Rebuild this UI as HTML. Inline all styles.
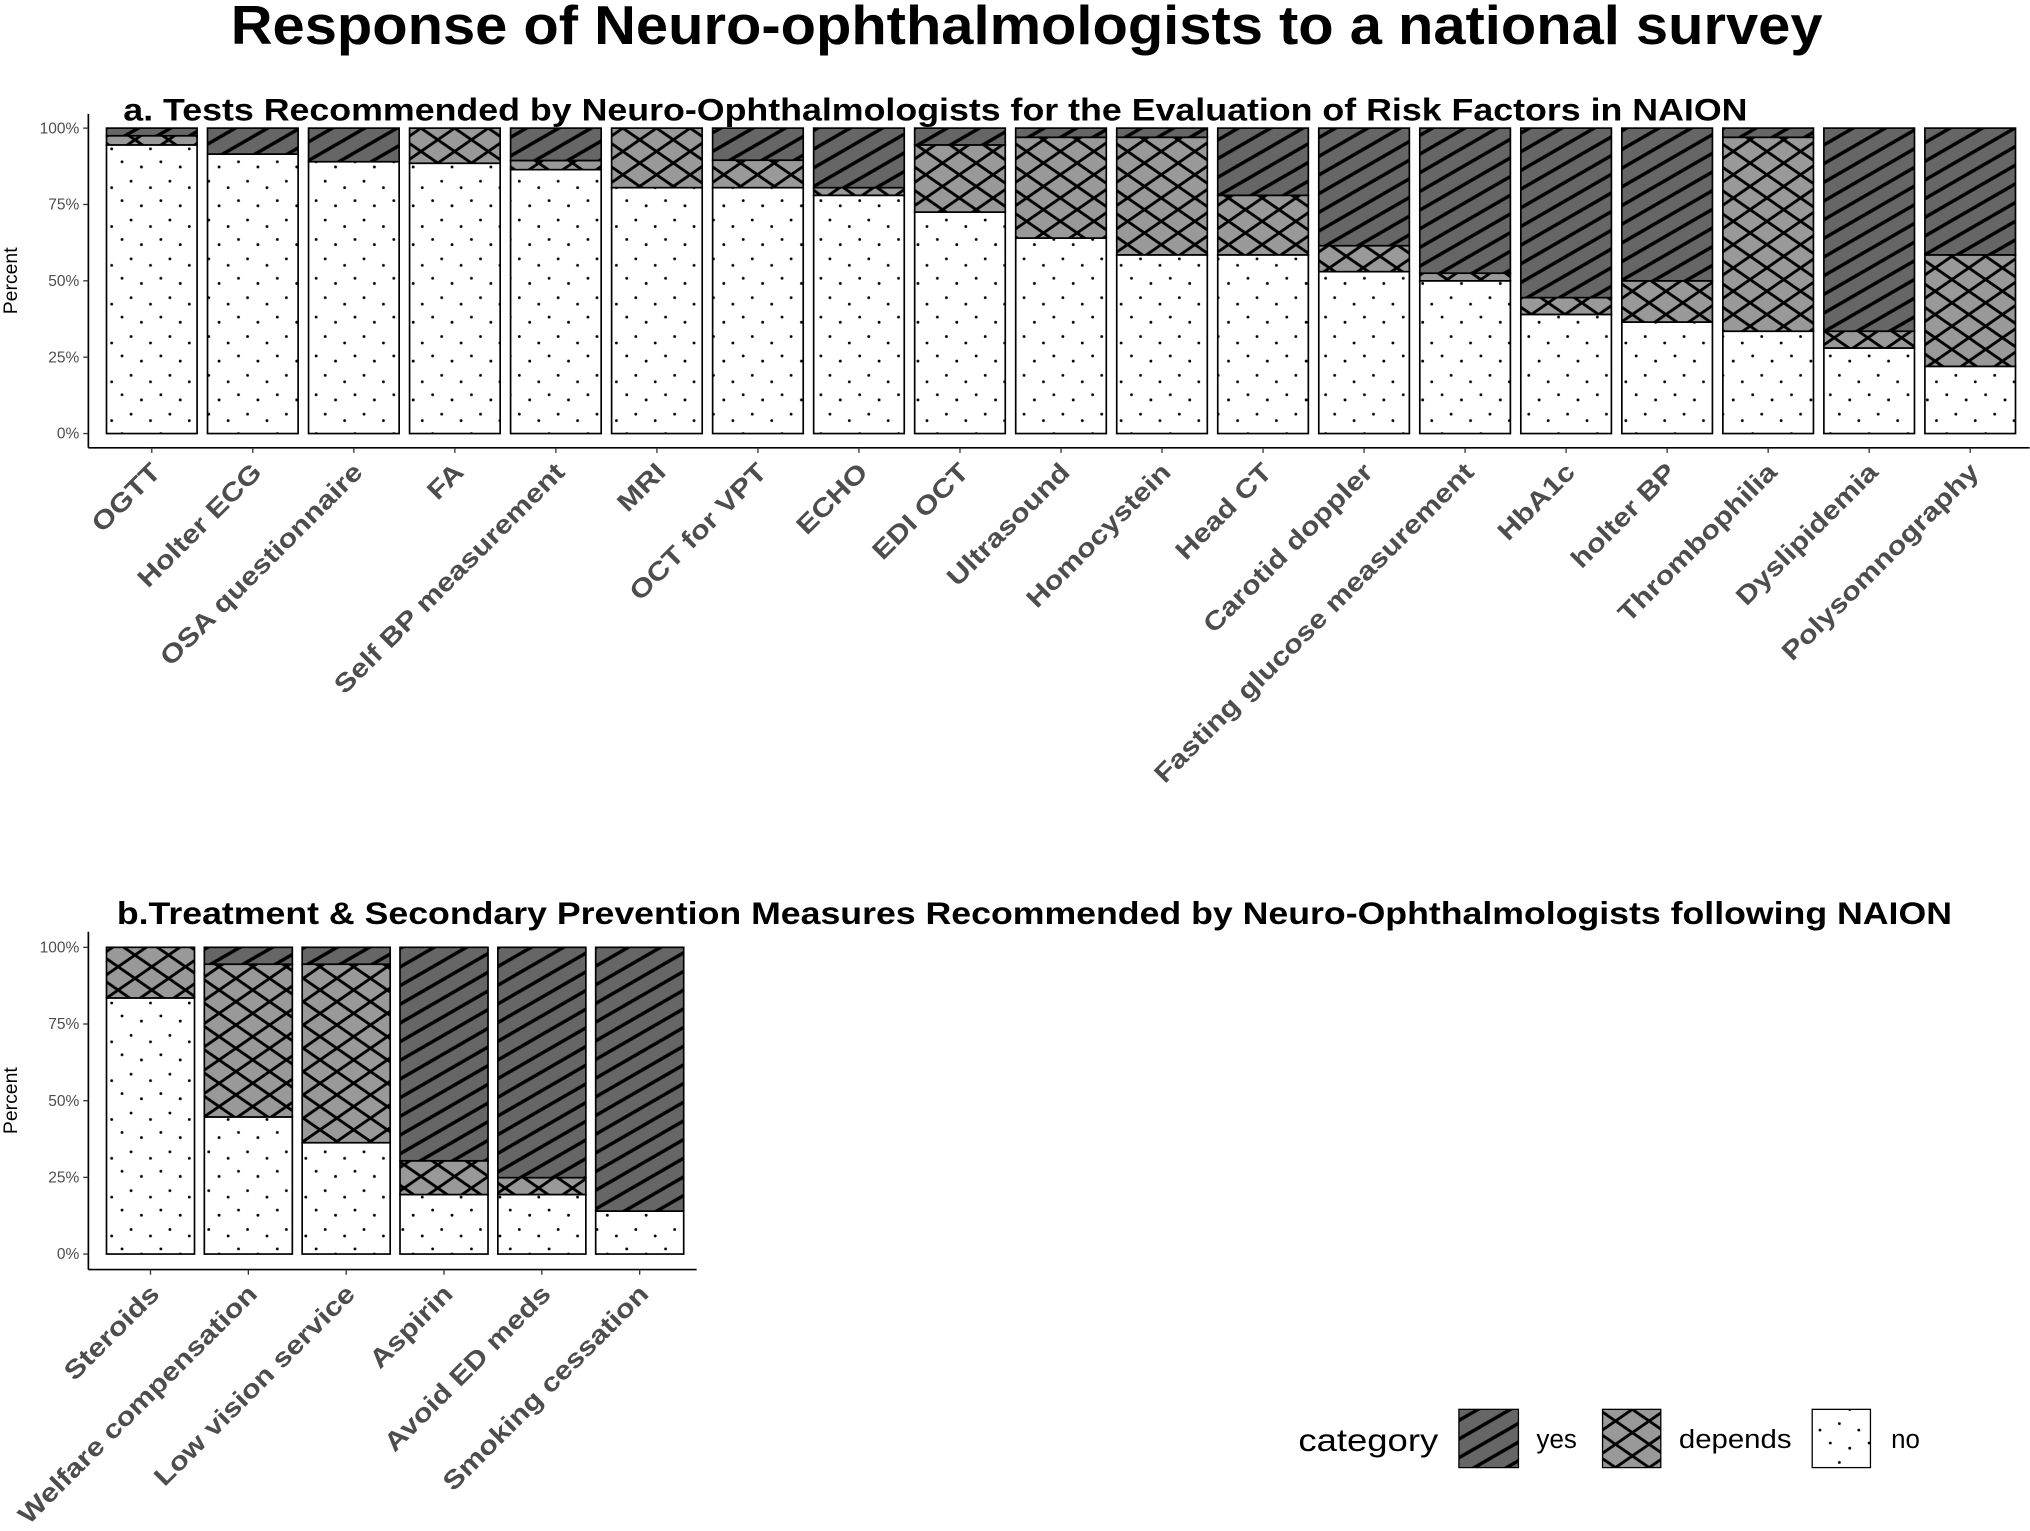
<!DOCTYPE html>
<html><head><meta charset="utf-8"><style>
html,body{margin:0;padding:0;background:#fff;}
svg{display:block;font-family:"Liberation Sans",sans-serif;}
</style></head><body>
<svg id="chart" width="2030" height="1531" viewBox="0 0 1568 1183" xmlns="http://www.w3.org/2000/svg">
<defs>
<pattern id="pYes" patternUnits="userSpaceOnUse" width="20" height="12.5" patternTransform="rotate(-30)">
<rect width="20" height="12.5" fill="#666"/>
<line x1="0" y1="1.5" x2="20" y2="1.5" stroke="#000" stroke-width="2.6"/>
</pattern>
<pattern id="pDep" patternUnits="userSpaceOnUse" width="26" height="18">
<rect width="26" height="18" fill="#999"/>
<path d="M-13,9 L13,-9 M0,18 L26,0 M13,27 L39,9 M-13,9 L13,27 M0,0 L26,18 M13,-9 L39,9" stroke="#000" stroke-width="2.2"/>
</pattern>
<pattern id="pNo" patternUnits="userSpaceOnUse" width="30" height="30">
<rect width="30" height="30" fill="#fff"/>
<circle cx="4" cy="5" r="1.1" fill="#000"/><circle cx="19" cy="9" r="1.1" fill="#000"/>
<circle cx="11" cy="20" r="1.1" fill="#000"/><circle cx="26" cy="25" r="1.1" fill="#000"/>
</pattern>
</defs>
<text x="178" y="34" font-size="42" font-weight="bold" fill="#000" textLength="1230" lengthAdjust="spacingAndGlyphs">Response of Neuro-ophthalmologists to a national survey</text>
<text x="95" y="93" font-size="24" font-weight="bold" fill="#000" textLength="1255" lengthAdjust="spacingAndGlyphs">a. Tests Recommended by Neuro-Ophthalmologists for the Evaluation of Risk Factors in NAION</text>
<text x="90" y="714" font-size="24" font-weight="bold" fill="#000" textLength="1418" lengthAdjust="spacingAndGlyphs">b.Treatment &amp; Secondary Prevention Measures Recommended by Neuro-Ophthalmologists following NAION</text>
<g id="panelA"></g>
<g id="panelB"></g>
<g>
<text x="1003" y="1121" font-size="24" fill="#000" textLength="108" lengthAdjust="spacingAndGlyphs">category</text>
<rect x="1127" y="1089" width="46" height="45" fill="url(#pYes)" stroke="#000" stroke-width="1"/>
<text x="1187" y="1119" font-size="20" fill="#000">yes</text>
<rect x="1238" y="1089" width="45" height="45" fill="url(#pDep)" stroke="#000" stroke-width="1"/>
<text x="1297" y="1119" font-size="20" fill="#000" textLength="87" lengthAdjust="spacingAndGlyphs">depends</text>
<rect x="1400" y="1089" width="45" height="45" fill="url(#pNo)" stroke="#000" stroke-width="1"/>
<text x="1461" y="1119" font-size="20" fill="#000">no</text>
</g>
</svg>
<script>
const catsA = ["OGTT","Holter ECG","OSA questionnaire","FA","Self BP measurement","MRI","OCT for VPT","ECHO","EDI OCT","Ultrasound","Homocystein","Head CT","Carotid doppler","Fasting glucose measurement","HbA1c","holter BP","Thrombophilia","Dyslipidemia","Polysomnography"];
const noA = [94.5,91.5,89,88.5,86.4,80.5,80.5,78,72.5,64,58.5,58.5,53,50,39,36.5,33.5,28,22];
const depA = [3,0,0,11.5,3,19.5,9,2.5,22,33,38.5,19.5,8.5,2.5,5.5,13.5,63.5,5.5,36.5];
const yesA = [2.5,8.5,11,0,10.6,0,10.5,19.5,5.5,3,3,22,38.5,47.5,55.5,50,3,66.5,41.5];
const catsB = ["Steroids","Welfare compensation","Low vision service","Aspirin","Avoid ED meds","Smoking cessation"];
const noB = [83.5,44.7,36.3,19.4,19.4,14];
const depB = [16.5,49.8,58.2,11,5.5,0];
const yesB = [0,5.5,5.5,69.6,75.1,86];
const ticks = ["0%","25%","50%","75%","100%"];
const tickVals = [0,25,50,75,100];

const NS="http://www.w3.org/2000/svg";
function mk(tag, attrs, parent){const e=document.createElementNS(NS,tag);for(const k in attrs)e.setAttribute(k,attrs[k]);parent.appendChild(e);return e;}

function panel(g, cats, no, dep, yes, o){
  const y = v => o.y0 - (v/100)*(o.y0-o.y100);
  const x = i => o.x0 + i*o.step;
  const ax = mk('line',{x1:o.axX,y1:o.axTop,x2:o.axX,y2:o.axY,stroke:'#000','stroke-width':1.3},g);
  
  
  const bx = mk('line',{x1:o.axX,y1:o.axY,x2:o.axRight,y2:o.axY,stroke:'#000','stroke-width':1.3},g);
  
  
  tickVals.forEach((v,i)=>{
    const t=mk('line',{x1:o.axX-4,y1:y(v),x2:o.axX,y2:y(v),stroke:'#333','stroke-width':1},g);
    
    
    const l=mk('text',{x:o.axX-7,y:y(v)+4,'text-anchor':'end','font-size':12,fill:'#4d4d4d'},g);
    
    
    l.textContent=ticks[i];
  });
  const yt=mk('text',{x:0,y:0,'text-anchor':'middle','font-size':15,fill:'#000',transform:`translate(13,${(o.y0+o.y100)/2}) rotate(-90)`},g);
  
  
  yt.textContent='Percent';
  cats.forEach((c,i)=>{
    const segs=[[no[i],'url(#pNo)','no'],[dep[i],'url(#pDep)','depends'],[yes[i],'url(#pYes)','yes']];
    let acc=0;
    segs.forEach(s=>{
      if(s[0]<=0) return;
      const r=mk('rect',{x:x(i),y:y(acc+s[0]),width:o.bw,height:y(acc)-y(acc+s[0]),fill:s[1],stroke:'#000','stroke-width':1.3},g);
      
      
      acc+=s[0];
    });
    const cx=x(i)+o.bw/2;
    const tk=mk('line',{x1:cx,y1:o.axY,x2:cx,y2:o.axY+4,stroke:'#333','stroke-width':1},g);
    
    
    const lb=mk('text',{x:0,y:0,'text-anchor':'end','font-size':20,'font-weight':'bold',fill:'#4d4d4d',transform:`translate(${cx+8},${o.axY+20}) rotate(-45) scale(1.18,1)`},g);
    
    
    lb.textContent=c;
  });
}
panel(document.getElementById('panelA'),catsA,noA,depA,yesA,{x0:82,step:78.06,bw:70,y0:335,y100:99,axX:68,axTop:88,axY:346,axRight:1568});
panel(document.getElementById('panelB'),catsB,noB,depB,yesB,{x0:82,step:75.6,bw:68,y0:969,y100:732,axX:68,axTop:720,axY:981,axRight:538});
</script>
</body></html>
